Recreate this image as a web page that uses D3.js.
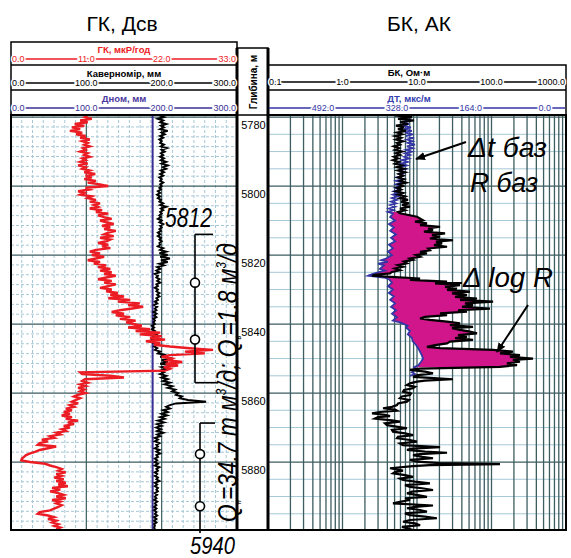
<!DOCTYPE html>
<html>
<head>
<meta charset="utf-8">
<script src="https://cdn.jsdelivr.net/npm/d3@7"></script>
<style>
  body { margin: 0; background: #fff; }
  svg { display: block; }
  text { font-family: "Liberation Sans", Arial, sans-serif; }
</style>
</head>
<body>
<div id="chart"></div>
<script>
const W = 571, H = 558;

// depth window and ticks
const depthDomain = [5779.4, 5899.7];
const depthTicks = [5780, 5800, 5820, 5840, 5860, 5880];

// header scales
const gkTicks = [0, 11, 22, 33];
const calTicks = [0, 100, 200, 300];
const bkTicks = [0.1, 1, 10, 100, 1000];
const dtTicks = [492, 328, 164, 0];
const dtDomain = [614, -47];
const dnom = 188;

// ГК, мкР/год  [depth, value]
const gkData = [[5779.5,11.2],[5780,10.8],[5780.5,11.8],[5781,10.1],[5781.5,11.2],[5782,9.3],[5782.5,10.7],[5783,8.9],[5783.5,10.1],[5784,8.6],[5784.5,10.4],[5785,9.5],[5785.5,10.9],[5786,10.1],[5786.5,11.5],[5787,10.4],[5787.5,11.2],[5788,10.7],[5788.5,11.5],[5789,10.5],[5789.5,10.9],[5790,10.1],[5790.5,11.2],[5791,10.7],[5791.5,11.5],[5792,10.4],[5792.5,10.9],[5793,10.1],[5793.5,11.2],[5794,9.8],[5794.5,10.9],[5795,10.4],[5795.5,11.5],[5796,10.7],[5796.5,12.3],[5797,10.9],[5797.5,11.8],[5798,10.7],[5798.5,12.4],[5799,11.2],[5799.5,13.0],[5800,14.2],[5800.5,10.9],[5801,11.5],[5801.5,9.8],[5802,10.7],[5802.5,10.1],[5803,11.8],[5803.5,11.2],[5804,12.4],[5804.5,11.5],[5805,13.0],[5805.5,12.1],[5806,12.7],[5806.5,11.5],[5807,13.3],[5807.5,12.4],[5808,14.2],[5808.5,12.7],[5809,13.6],[5809.5,14.7],[5810,13.0],[5810.5,13.9],[5811,15.0],[5811.5,13.3],[5812,14.5],[5812.5,13.6],[5813,15.3],[5813.5,14.2],[5814,13.6],[5814.5,15.0],[5815,13.0],[5815.5,14.5],[5816,13.9],[5816.5,12.7],[5817,14.2],[5817.5,13.3],[5818,14.5],[5818.5,12.4],[5819,11.5],[5819.5,13.0],[5820,11.8],[5820.5,13.6],[5821,12.4],[5821.5,11.2],[5822,13.0],[5822.5,12.1],[5823,13.9],[5823.5,12.7],[5824,14.5],[5824.5,13.0],[5825,14.7],[5825.5,13.6],[5826,15.3],[5826.5,13.9],[5827,12.7],[5827.5,14.7],[5828,13.6],[5828.5,15.3],[5829,14.2],[5829.5,13.0],[5830,14.7],[5830.5,13.9],[5831,15.6],[5831.5,14.5],[5832,16.5],[5832.5,14.2],[5833,17.4],[5833.5,15.6],[5834,18.8],[5834.5,17.1],[5835,19.3],[5835.5,17.7],[5836,15.9],[5836.5,14.7],[5837,16.5],[5837.5,15.3],[5838,17.4],[5838.5,15.9],[5839,18.2],[5839.5,16.8],[5840,18.0],[5840.5,19.1],[5841,17.1],[5841.5,20.3],[5842,18.2],[5842.5,21.8],[5843,18.8],[5843.5,22.0],[5844,20.3],[5844.5,22.5],[5845,19.7],[5845.5,21.8],[5846,20.9],[5846.5,23.2],[5847,26.1],[5847.5,29.5],[5848,25.4],[5848.5,28.3],[5849,23.2],[5849.5,22.0],[5850,23.5],[5850.5,22.9],[5851,25.0],[5851.5,22.6],[5852,24.4],[5852.5,22.3],[5853,23.2],[5853.5,22.5],[5854,10.1],[5854.5,10.4],[5855,14.5],[5855.5,16.5],[5856,10.8],[5856.5,10.4],[5857,11.2],[5857.5,10.1],[5858,10.9],[5858.5,9.8],[5859,10.7],[5859.5,10.1],[5860,10.9],[5860.5,9.8],[5861,9.2],[5861.5,10.1],[5862,9.5],[5862.5,8.9],[5863,9.8],[5863.5,8.6],[5864,9.2],[5864.5,8.0],[5865,8.9],[5865.5,7.7],[5866,8.6],[5866.5,7.4],[5867,8.9],[5867.5,8.0],[5868,9.8],[5868.5,8.3],[5869,9.2],[5869.5,7.7],[5870,8.6],[5870.5,7.4],[5871,8.0],[5871.5,6.6],[5872,7.2],[5872.5,5.7],[5873,6.3],[5873.5,4.5],[5874,5.4],[5874.5,4.2],[5875,3.9],[5875.5,6.6],[5876,5.4],[5876.5,4.2],[5877,3.6],[5877.5,2.8],[5878,2.2],[5878.5,1.9],[5879,1.6],[5879.5,1.5],[5880,2.8],[5880.5,5.0],[5881,5.7],[5881.5,6.6],[5882,7.4],[5882.5,6.9],[5883,8.0],[5883.5,6.6],[5884,7.4],[5884.5,6.3],[5885,7.7],[5885.5,6.6],[5886,8.0],[5886.5,6.9],[5887,8.3],[5887.5,6.0],[5888,7.2],[5888.5,5.7],[5889,6.9],[5889.5,7.7],[5890,6.6],[5890.5,8.0],[5891,6.0],[5891.5,7.2],[5892,6.6],[5892.5,7.4],[5893,6.9],[5893.5,6.3],[5894,5.7],[5894.5,4.2],[5895,3.9],[5895.5,5.4],[5896,6.3],[5896.5,5.4],[5897,6.6],[5897.5,6.0],[5898,6.9],[5898.5,6.3],[5899,7.2],[5899.5,6.6]];

// Кавернoмір, мм  [depth, value]
const caliperData = [[5779.5,197],[5780,203],[5780.5,195],[5781,202],[5781.5,198],[5782,206],[5782.5,199],[5783,203],[5783.5,198],[5784,208],[5784.5,200],[5785,204],[5785.5,198],[5786,202],[5786.5,197],[5787,200],[5787.5,198],[5788,203],[5788.5,199],[5789,207],[5789.5,200],[5790,204],[5790.5,199],[5791,202],[5791.5,198],[5792,203],[5792.5,199],[5793,206],[5793.5,200],[5794,208],[5794.5,202],[5795,206],[5795.5,199],[5796,203],[5796.5,198],[5797,202],[5797.5,197],[5798,200],[5798.5,198],[5799,202],[5799.5,198],[5800,200],[5800.5,197],[5801,199],[5801.5,195],[5802,198],[5802.5,194],[5803,198],[5803.5,195],[5804,199],[5804.5,197],[5805,202],[5805.5,198],[5806,206],[5806.5,199],[5807,202],[5807.5,198],[5808,200],[5808.5,197],[5809,199],[5809.5,195],[5810,200],[5810.5,197],[5811,202],[5811.5,198],[5812,200],[5812.5,197],[5813,199],[5813.5,195],[5814,198],[5814.5,195],[5815,199],[5815.5,197],[5816,200],[5816.5,197],[5817,198],[5817.5,195],[5818,202],[5818.5,198],[5819,206],[5819.5,197],[5820,208],[5820.5,198],[5821,211],[5821.5,199],[5822,208],[5822.5,197],[5823,203],[5823.5,194],[5824,198],[5824.5,193],[5825,197],[5825.5,191],[5826,195],[5826.5,193],[5827,197],[5827.5,194],[5828,198],[5828.5,193],[5829,195],[5829.5,191],[5830,195],[5830.5,193],[5831,197],[5831.5,194],[5832,197],[5832.5,193],[5833,195],[5833.5,191],[5834,194],[5834.5,190],[5835,194],[5835.5,191],[5836,193],[5836.5,189],[5837,193],[5837.5,190],[5838,193],[5838.5,189],[5839,191],[5839.5,189],[5840,191],[5840.5,187],[5841,190],[5841.5,187],[5842,191],[5842.5,189],[5843,193],[5843.5,189],[5844,191],[5844.5,187],[5845,190],[5845.5,189],[5846,193],[5846.5,190],[5847,194],[5847.5,191],[5848,198],[5848.5,195],[5849,206],[5849.5,198],[5850,214],[5850.5,200],[5851,208],[5851.5,198],[5852,216],[5852.5,200],[5853,206],[5853.5,198],[5854,203],[5854.5,198],[5855,206],[5855.5,200],[5856,208],[5856.5,202],[5857,211],[5857.5,204],[5858,214],[5858.5,208],[5859,218],[5859.5,214],[5860,222],[5860.5,219],[5861,227],[5861.5,224],[5862,235],[5862.5,259],[5863,219],[5863.5,211],[5864,206],[5864.5,211],[5865,202],[5865.5,208],[5866,200],[5866.5,207],[5867,198],[5867.5,204],[5868,195],[5868.5,203],[5869,194],[5869.5,200],[5870,193],[5870.5,199],[5871,194],[5871.5,202],[5872,194],[5872.5,198],[5873,191],[5873.5,195],[5874,191],[5874.5,197],[5875,193],[5875.5,195],[5876,191],[5876.5,197],[5877,193],[5877.5,198],[5878,193],[5878.5,195],[5879,191],[5879.5,194],[5880,191],[5880.5,195],[5881,191],[5881.5,197],[5882,193],[5882.5,195],[5883,191],[5883.5,194],[5884,191],[5884.5,195],[5885,193],[5885.5,197],[5886,191],[5886.5,194],[5887,191],[5887.5,195],[5888,193],[5888.5,195],[5889,191],[5889.5,194],[5890,191],[5890.5,193],[5891,190],[5891.5,194],[5892,191],[5892.5,193],[5893,190],[5893.5,193],[5894,190],[5894.5,193],[5895,191],[5895.5,194],[5896,190],[5896.5,193],[5897,190],[5897.5,193],[5898,190],[5898.5,191],[5899,190],[5899.5,191]];

// БК, Ом·м  [depth, value]
const bkData = [[5779.5,5.07],[5780,8.57],[5780.5,5.56],[5781,9.11],[5781.5,5.91],[5782,7.57],[5782.5,5.22],[5783,6.69],[5783.5,5.56],[5784,7.12],[5784.5,5.39],[5785,6.29],[5785.5,5.07],[5786,6.10],[5786.5,5.22],[5787,6.49],[5787.5,5.39],[5788,5.91],[5788.5,4.91],[5789,5.73],[5789.5,5.07],[5790,6.29],[5790.5,5.22],[5791,5.91],[5791.5,4.91],[5792,5.56],[5792.5,4.76],[5793,5.73],[5793.5,5.07],[5794,6.29],[5794.5,5.39],[5795,6.69],[5795.5,5.56],[5796,6.90],[5796.5,5.73],[5797,6.49],[5797.5,5.56],[5798,6.69],[5798.5,5.91],[5799,7.12],[5799.5,5.73],[5800,6.49],[5800.5,5.39],[5801,6.10],[5801.5,5.22],[5802,6.49],[5802.5,5.56],[5803,6.90],[5803.5,5.91],[5804,7.57],[5804.5,6.10],[5805,7.81],[5805.5,6.29],[5806,8.05],[5806.5,5.91],[5807,6.90],[5807.5,5.56],[5807.9,5.91],[5808.9,10.0],[5809.9,12.0],[5810.3,9.4],[5810.8,13.6],[5811.3,11.0],[5811.8,20.4],[5812.3,14.1],[5812.8,16.4],[5813.2,12.4],[5813.7,23.8],[5814.2,15.9],[5814.7,20.4],[5815.2,14.9],[5815.7,30.4],[5816.1,18.0],[5816.6,21.7],[5817.1,16.9],[5817.6,25.3],[5818.1,14.1],[5818.6,14.9],[5819.1,11.0],[5819.5,13.6],[5820,9.7],[5820.5,11.0],[5821,8.05],[5821.4,8.84],[5821.9,6.69],[5822.4,7.34],[5822.9,5.56],[5823.4,6.49],[5823.9,5.07],[5824.4,5.91],[5824.9,4.61],[5825.3,4.34],[5825.7,2.73],[5826,2.49],[5826.4,5.07],[5826.8,11.0],[5827.2,8.05],[5827.7,25.3],[5828.2,17.5],[5828.7,37.8],[5829.2,23.8],[5829.7,34.4],[5830.1,25.3],[5830.6,51.4],[5831.1,29.5],[5831.6,46.9],[5832.1,32.4],[5832.6,63.9],[5833,37.8],[5833.5,105],[5834,44.1],[5834.5,56.5],[5835,40.2],[5835.5,95.4],[5836,35.5],[5836.4,46.9],[5836.9,20.4],[5837.4,25.3],[5837.9,12.8],[5838.4,11.0],[5838.8,14.9],[5839.3,25.3],[5839.8,37.8],[5840.3,27.7],[5840.8,56.5],[5841.2,29.5],[5841.7,37.8],[5842.2,51.4],[5842.7,63.9],[5843.2,35.5],[5843.7,46.9],[5844.1,32.4],[5844.6,56.5],[5845.1,27.7],[5845.6,25.3],[5846.1,17.5],[5846.6,13.6],[5847,20.4],[5847.5,105],[5848,194],[5848.5,130],[5849,241],[5849.5,177],[5850,361],[5850.4,194],[5850.9,241],[5851.4,161],[5851.9,220],[5852.4,130],[5852.9,11.0],[5853.3,8.05],[5853.8,12.8],[5854.3,16.4],[5854.8,10.3],[5855.3,8.84],[5855.6,14.9],[5856,30.4],[5856.4,12.8],[5856.7,10.0],[5857.2,8.05],[5857.7,7.34],[5858.2,9.4],[5858.6,8.84],[5859.1,6.69],[5859.6,6.49],[5860.1,8.3],[5860.6,8.05],[5861,6.29],[5861.5,5.91],[5862,7.81],[5862.5,7.34],[5863,5.56],[5863.5,5.39],[5864,4.61],[5864.4,3.5],[5864.8,5.07],[5865.1,5.39],[5865.5,3.19],[5865.9,2.49],[5866.3,3.72],[5866.7,4.34],[5867,3.0],[5867.4,2.73],[5867.9,4.61],[5868.3,5.91],[5868.8,3.72],[5869.3,3.96],[5869.8,5.56],[5870.2,7.34],[5870.7,4.61],[5871.2,4.76],[5871.7,6.9],[5872.2,8.84],[5872.7,5.56],[5873.1,5.39],[5873.6,8.05],[5874.1,10.0],[5874.6,5.91],[5875.1,6.49],[5875.7,20.4],[5876.1,8.57],[5876.5,7.34],[5877,12.8],[5877.3,25.3],[5877.7,11.0],[5878,8.84],[5878.5,11.7],[5878.9,16.4],[5879.4,8.05],[5879.9,10.0],[5880.3,20.4],[5880.6,130],[5880.9,14.9],[5881.2,8.84],[5881.8,4.34],[5882.2,5.56],[5882.5,6.49],[5882.9,5.07],[5883.3,4.76],[5883.8,6.9],[5884.3,8.84],[5884.8,5.91],[5885.2,6.49],[5885.7,9.4],[5886.2,14.9],[5886.7,6.9],[5887.2,8.05],[5887.6,11.7],[5888.1,16.4],[5888.6,8.57],[5889.1,7.34],[5889.6,10.3],[5890.1,13.6],[5890.5,6.9],[5891,8.05],[5891.5,5.91],[5892,4.76],[5892.6,16.4],[5893,9.4],[5893.4,7.34],[5893.9,11.0],[5894.4,13.6],[5894.9,6.9],[5895.4,8.05],[5895.8,12.8],[5896.3,18.5],[5896.8,8.05],[5897.3,6.49],[5897.8,9.4],[5898.3,11.0],[5898.8,6.29],[5899.2,7.34],[5899.7,8.84]];

// ДТ, мкс/м  [depth, value]
const dtData = [[5779.5,312],[5780,295],[5780.5,321],[5781,299],[5781.5,317],[5782,301],[5782.5,315],[5783,297],[5783.5,312],[5784,295],[5784.5,310],[5785,293],[5785.5,308],[5786,290],[5786.5,306],[5787,293],[5787.5,304],[5788,288],[5788.5,306],[5789,293],[5789.5,308],[5790,295],[5790.5,310],[5791,299],[5791.5,312],[5792,301],[5792.5,317],[5793,304],[5793.5,319],[5794,306],[5794.5,321],[5795,308],[5795.5,324],[5796,310],[5796.5,326],[5797,312],[5797.5,328],[5798,315],[5798.5,330],[5799,317],[5799.5,330],[5800,319],[5800.5,332],[5801,321],[5801.5,335],[5802,324],[5802.5,337],[5803,326],[5803.5,339],[5804,328],[5804.5,341],[5805,330],[5805.5,343],[5806,332],[5806.5,346],[5807,335],[5807.5,348],[5808,337],[5809,343],[5810,332],[5811,346],[5812,335],[5813,343],[5814,330],[5815,341],[5816,332],[5817,346],[5818,337],[5819,348],[5820,339],[5821,352],[5821.5,363],[5822,348],[5822.5,370],[5823,357],[5824,366],[5824.5,355],[5825,370],[5825.5,383],[5826,392],[5826.5,357],[5827,346],[5828,339],[5829,348],[5830,337],[5831,346],[5832,335],[5833,343],[5834,332],[5835,341],[5836,330],[5837,339],[5838,328],[5839,337],[5839.5,321],[5840,312],[5840.5,304],[5841,308],[5842,299],[5843,304],[5844,295],[5845,293],[5846,286],[5847,281],[5848,277],[5849,273],[5850,270],[5851,275],[5852,281],[5852.5,290],[5853,286],[5854,295],[5854.5,288],[5855,299]];

// ΔlogR shading depth range
const fillRange = [5807.5, 5852.9];

// perforation intervals
const perfIntervals = [
  { top: 5814, bottom: 5857, shots: [5828, 5844.5], label: "5812" },
  { top: 5868.7, bottom: 5940, shots: [5877.7, 5892.8], label: "5940" }
];

// layout
const trackTop = 115, trackBottom = 530;
const L = [11, 237], D = [237, 268], R = [268, 566];
const gridDark = "#3d5d60", gridLight = "#a6c8d6";
const red = "#ec1c24", pink = "#d0168a", blue = "#3436a6";

const y = d3.scaleLinear().domain(depthDomain).range([trackTop, trackBottom]);
const xGK = d3.scaleLinear().domain([0, 33]).range(L);
const xCal = d3.scaleLinear().domain([0, 300]).range(L);
const xBK = d3.scaleLog().domain([0.1, 1000]).range(R);
const xDT = d3.scaleLinear().domain(dtDomain).range(R);

const svg = d3.select("#chart").append("svg").attr("width", W).attr("height", H);
const defs = svg.append("defs");

defs.append("clipPath").attr("id", "clipL").append("rect")
  .attr("x", L[0]).attr("y", trackTop).attr("width", L[1] - L[0]).attr("height", trackBottom - trackTop);
defs.append("clipPath").attr("id", "clipR").append("rect")
  .attr("x", R[0]).attr("y", trackTop).attr("width", R[1] - R[0]).attr("height", trackBottom - trackTop);

const dtFill = dtData.filter(d => d[0] >= fillRange[0] && d[0] <= fillRange[1]);
defs.append("clipPath").attr("id", "clipDT").append("path")
  .attr("d", d3.area().y(d => y(d[0])).x0(d => xDT(d[1])).x1(R[1])(dtFill));

defs.append("marker").attr("id", "arrow")
  .attr("viewBox", "0 0 10 10").attr("refX", 9).attr("refY", 5)
  .attr("markerWidth", 5).attr("markerHeight", 5).attr("orient", "auto")
  .append("path").attr("d", "M0,1L10,5L0,9z").attr("fill", "#000");

// titles
svg.append("text").attr("x", 122).attr("y", 31).attr("text-anchor", "middle")
  .attr("font-size", 21).text("ГК, Дсв");
svg.append("text").attr("x", 419).attr("y", 31).attr("text-anchor", "middle")
  .attr("font-size", 21).text("БК, АК");

// ---------- grid ----------
const grid = svg.append("g");
const minorDepth = d3.range(5780, 5900, 20 / 7).filter((d, i) => i % 7 !== 0);

grid.append("g").attr("clip-path", "url(#clipL)").selectAll("line")
  .data(minorDepth).join("line")
  .attr("x1", L[0]).attr("x2", L[1]).attr("y1", y).attr("y2", y)
  .attr("stroke", gridLight).attr("stroke-dasharray", "3,2");
grid.append("g").selectAll("line")
  .data(d3.range(0, 300, 100 / 7).filter((d, i) => i % 7 !== 0)).join("line")
  .attr("x1", xCal).attr("x2", xCal).attr("y1", trackTop).attr("y2", trackBottom)
  .attr("stroke", gridLight).attr("stroke-dasharray", "3,2");
grid.append("g").selectAll("line")
  .data([100, 200]).join("line")
  .attr("x1", xCal).attr("x2", xCal).attr("y1", trackTop).attr("y2", trackBottom)
  .attr("stroke", gridDark).attr("stroke-width", 1.2);

grid.append("g").selectAll("line")
  .data(d3.range(5785, 5900, 5).filter(d => d % 20 !== 0)).join("line")
  .attr("x1", R[0]).attr("x2", R[1]).attr("y1", y).attr("y2", y)
  .attr("stroke", gridLight).attr("stroke-width", 1);
const logLines = [];
[0.1, 1, 10, 100].forEach(dec => d3.range(2, 10).forEach(k => logLines.push(k * dec)));
[1, 10, 100].forEach(v => logLines.push(v));
grid.append("g").selectAll("line")
  .data(logLines).join("line")
  .attr("x1", xBK).attr("x2", xBK).attr("y1", trackTop).attr("y2", trackBottom)
  .attr("stroke", gridDark).attr("stroke-width", 1.3);

grid.append("g").selectAll("line")
  .data(depthTicks).join("line")
  .attr("x1", L[0]).attr("x2", L[1]).attr("y1", y).attr("y2", y)
  .attr("stroke", gridDark).attr("stroke-width", 1.3);
grid.append("g").selectAll("line")
  .data(depthTicks).join("line")
  .attr("x1", R[0]).attr("x2", R[1]).attr("y1", y).attr("y2", y)
  .attr("stroke", gridDark).attr("stroke-width", 1.3);

// ---------- curves ----------
const left = svg.append("g").attr("clip-path", "url(#clipL)");
left.append("line")
  .attr("x1", xCal(dnom)).attr("x2", xCal(dnom)).attr("y1", trackTop).attr("y2", trackBottom)
  .attr("stroke", "#3a2f95").attr("stroke-width", 2);
left.append("path").datum(caliperData)
  .attr("d", d3.line().x(d => xCal(d[1])).y(d => y(d[0])))
  .attr("fill", "none").attr("stroke", "#000").attr("stroke-width", 2);
left.append("path").datum(gkData)
  .attr("d", d3.line().x(d => xGK(d[1])).y(d => y(d[0])))
  .attr("fill", "none").attr("stroke", red).attr("stroke-width", 2.4);

const right = svg.append("g").attr("clip-path", "url(#clipR)");
right.append("g").attr("clip-path", "url(#clipDT)")
  .append("path").datum(bkData)
  .attr("d", d3.area().y(d => y(d[0])).x0(R[0]).x1(d => xBK(d[1])))
  .attr("fill", pink);
right.append("path").datum(dtData)
  .attr("d", d3.line().x(d => xDT(d[1])).y(d => y(d[0])))
  .attr("fill", "none").attr("stroke", blue).attr("stroke-width", 1.8);
right.append("path").datum(bkData)
  .attr("d", d3.line().x(d => xBK(d[1])).y(d => y(d[0])))
  .attr("fill", "none").attr("stroke", "#000").attr("stroke-width", 2.2);

// ---------- frames ----------
const frame = svg.append("g").attr("fill", "none").attr("stroke", "#000");
frame.append("rect").attr("x", L[0]).attr("y", 42).attr("width", L[1] - L[0]).attr("height", trackTop - 42).attr("stroke-width", 1.5);
frame.append("line").attr("x1", L[0]).attr("x2", L[1]).attr("y1", 65).attr("y2", 65).attr("stroke-width", 1.5);
frame.append("line").attr("x1", L[0]).attr("x2", L[1]).attr("y1", 90).attr("y2", 90).attr("stroke-width", 1.5);
frame.append("rect").attr("x", D[0]).attr("y", 48).attr("width", D[1] - D[0]).attr("height", trackTop - 48).attr("stroke-width", 1.5);
frame.append("rect").attr("x", R[0]).attr("y", 65).attr("width", R[1] - R[0]).attr("height", trackTop - 65).attr("stroke-width", 1.5);
frame.append("line").attr("x1", R[0]).attr("x2", R[1]).attr("y1", 90).attr("y2", 90).attr("stroke-width", 1.5);
frame.append("rect").attr("x", L[0]).attr("y", trackTop).attr("width", L[1] - L[0]).attr("height", trackBottom - trackTop).attr("stroke-width", 2);
frame.append("rect").attr("x", R[0]).attr("y", trackTop).attr("width", R[1] - R[0]).attr("height", trackBottom - trackTop).attr("stroke-width", 2);
frame.append("line").attr("x1", D[0]).attr("x2", D[1]).attr("y1", trackBottom).attr("y2", trackBottom).attr("stroke-width", 2);
[D[0], D[1]].forEach(x => frame.append("line").attr("x1", x).attr("x2", x).attr("y1", 48).attr("y2", trackBottom + 1).attr("stroke-width", 3));

// ---------- header scales ----------
const fmt = d3.format(".1f");
function scaleRow(range, yLine, title, ticks, scale, color, titleColor, cx, fullLine) {
  const g = svg.append("g");
  g.append("text").attr("x", cx).attr("y", yLine - 6).attr("text-anchor", "middle")
    .attr("font-size", 9.5).attr("font-weight", "bold").attr("fill", titleColor).text(title);
  g.append("line").attr("x1", range[0] + 1).attr("x2", range[1] - 1).attr("y1", yLine).attr("y2", yLine)
    .attr("stroke", color).attr("stroke-width", 1.5);
  ticks.forEach((t, i) => {
    let x = scale(t), anchor = "middle";
    if (!fullLine && i === 0) { x = range[0] + 1; anchor = "start"; }
    if (!fullLine && i === ticks.length - 1) { x = range[1] - 1; anchor = "end"; }
    g.append("text").attr("x", x).attr("y", yLine + 3.2).attr("text-anchor", anchor)
      .attr("font-size", 9).attr("fill", color)
      .attr("stroke", "#fff").attr("stroke-width", 3).attr("paint-order", "stroke")
      .text(fmt(t));
  });
}
scaleRow(L, 59, "ГК, мкР/год", gkTicks, xGK, red, red, 124, false);
scaleRow(L, 83, "Кавернoмір, мм", calTicks, xCal, "#000", "#000", 124, false);
scaleRow(L, 108, "Дном, мм", calTicks, xCal, "#3a2f95", "#4d3aa0", 124, false);
scaleRow(R, 82, "БК, Ом·м", bkTicks, xBK, "#000", "#000", 409, false);
scaleRow(R, 108, "ДТ, мкс/м", dtTicks, xDT, blue, "#3440b0", 409, true);

svg.append("text").attr("transform", `translate(${(D[0] + D[1]) / 2 + 4},82) rotate(-90)`)
  .attr("text-anchor", "middle").attr("font-size", 10).attr("font-weight", "bold")
  .text("Глибина, м");

// depth labels
svg.append("g").selectAll("text").data(depthTicks).join("text")
  .attr("x", (D[0] + D[1]) / 2 + 1).attr("y", d => y(d) + 11.5)
  .attr("text-anchor", "middle").attr("font-size", 11).text(d => d);

// ---------- annotations ----------
function squeeze(sel, x, yy, len, rotate) {
  const n = sel.node().getComputedTextLength();
  sel.attr("transform", `translate(${x},${yy})${rotate ? " rotate(-90)" : ""} scale(${len / n},1)`);
  return sel;
}
function note(str, x, yy, len, size) {
  const t = svg.append("text").attr("font-size", size).attr("font-style", "italic").text(str);
  return squeeze(t, x, yy, len, false);
}

const ann = svg.append("g").attr("stroke", "#000").attr("stroke-width", 1.6).attr("fill", "none");
const perfX = [195, 200], perfTopLen = [18, 15], perfBotLen = 23;
perfIntervals.forEach((p, i) => {
  const x = perfX[i];
  const y0 = y(p.top), y1 = Math.min(y(p.bottom), trackBottom + 3);
  ann.append("line").attr("x1", x).attr("x2", x + perfTopLen[i]).attr("y1", y0).attr("y2", y0);
  ann.append("line").attr("x1", x).attr("x2", x).attr("y1", y0).attr("y2", y1);
  if (y(p.bottom) < trackBottom) ann.append("line").attr("x1", x).attr("x2", x + perfBotLen).attr("y1", y1).attr("y2", y1);
  p.shots.forEach(s => ann.append("circle").attr("cx", x).attr("cy", y(s)).attr("r", 4.5).attr("fill", "#fff"));
});
note(perfIntervals[0].label, 165, y(perfIntervals[0].top) - 7, 47, 27);
note(perfIntervals[1].label, 190, 554, 45, 24);

// rotated flow-rate text
const q = svg.append("text").attr("font-size", 27).attr("font-style", "italic");
q.append("tspan").text("Q");
q.append("tspan").attr("font-size", 9).attr("dy", 4).text("н");
q.append("tspan").attr("dy", -4).text("=34.7 m м");
q.append("tspan").attr("font-size", 14).attr("dy", -11).text("3");
q.append("tspan").attr("dy", 11).text("/д; Q");
q.append("tspan").attr("font-size", 9).attr("dy", 4).text("в");
q.append("tspan").attr("dy", -4).text("=1.8 м");
q.append("tspan").attr("font-size", 14).attr("dy", -11).text("3");
q.append("tspan").attr("dy", 11).text("/д");
squeeze(q, 237, 522, 279, true);

note("Δt баз", 468, 157, 79, 27);
note("R баз", 470, 192, 68, 27);
note("Δ log R", 463, 287, 90, 27);

ann.append("line").attr("x1", 466).attr("y1", 142).attr("x2", 416).attr("y2", 159)
  .attr("stroke-width", 2).attr("marker-end", "url(#arrow)");
ann.append("line").attr("x1", 462).attr("y1", 283).attr("x2", 440).attr("y2", 283)
  .attr("stroke-width", 2);
ann.append("line").attr("x1", 528).attr("y1", 305).attr("x2", 497).attr("y2", 352)
  .attr("stroke-width", 2).attr("marker-end", "url(#arrow)");
</script>
</body>
</html>
